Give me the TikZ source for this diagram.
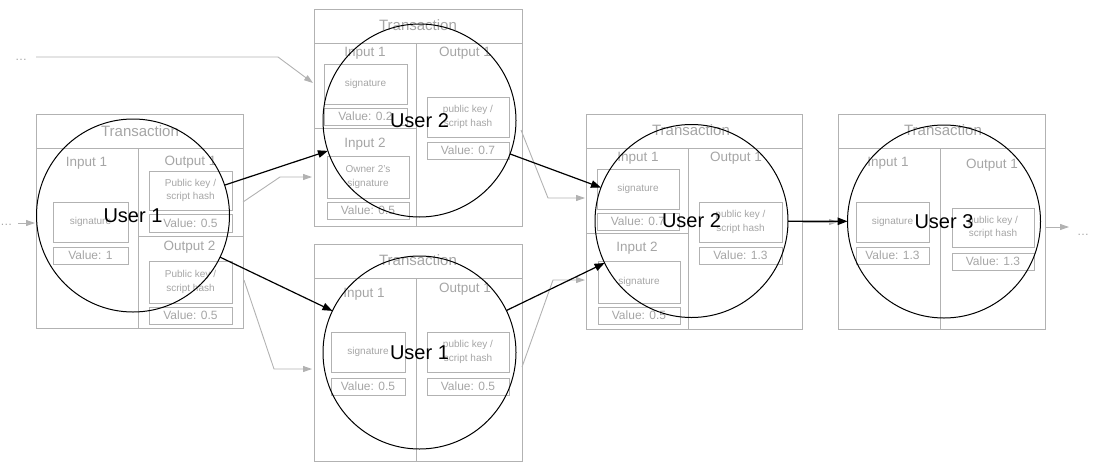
\documentclass[tikz,border=0pt]{standalone}
\usepackage{fontspec}
\setmainfont{Liberation Sans}
\usetikzlibrary{arrows.meta}
\definecolor{lgl}{RGB}{178,178,178}
\definecolor{lgt}{RGB}{165,165,165}
\newcommand{\rbox}[7][]{\node[bxs,minimum width={#5-#3},minimum height={#6-#4},#1] (#2) at ({(#3+#5)/2},{(#4+#6)/2}) {#7};}
\tikzset{
  bxs/.style={draw=lgl, line width=0.9pt, inner sep=0pt, outer sep=0pt, text=lgt, font=\fontsize{10}{13.3}\selectfont, align=center},
  val/.style={font=\fontsize{12}{14}\selectfont},
  ttl/.style={text=lgt, font=\fontsize{15}{18}\selectfont, inner sep=0pt},
  lbl/.style={text=lgt, font=\fontsize{13.5}{16}\selectfont, inner sep=0pt},
  dotsl/.style={text=lgt, font=\fontsize{12}{14}\selectfont, inner sep=0pt, anchor=base},
  gline/.style={draw=lgl, line width=0.9pt},
  garrow/.style={draw=lgl, line width=0.9pt, -{Triangle[length=9pt,width=6pt]}},
  barrow/.style={draw=black, line width=1.2pt, -{Triangle[length=10pt,width=7.5pt]}},
  ucirc/.style={circle, draw=black, line width=1pt, minimum size=193pt, inner sep=0pt, outer sep=0pt, font=\fontsize{20}{24}\selectfont}
}
\begin{document}
\begin{tikzpicture}[x=1pt,y=-1pt]
\useasboundingbox (0,0) rectangle (1108,472);

% ---------- Transaction 1 ----------
\rbox{t1}{36}{114}{243}{328}{}
\draw[gline] (t1.west |- 0,148) -- (t1.east |- 0,148);
\draw[gline] (138,148) -- (t1.south -| 138,0);
\draw[gline] (138,236) -- (t1.east |- 0,236);
\node[ttl] (t1t) at (140,131) {Transaction};
\node[lbl] (t1i1) at (86.5,163) {Input 1};
\node[lbl] (t1o1) at (190.5,162) {Output 1};
\node[lbl] (t1o2) at (189.5,247) {Output 2};
\rbox{t1s1}{53}{202}{128}{242}{signature}
\rbox[val]{t1v1}{53}{247}{128}{264}{Value: 1}
\rbox{t1p1}{149}{171}{232}{210}{Public key /\\script hash}
\rbox[val]{t1v2}{149}{214}{232}{232}{Value: 0.5}
\rbox{t1p2}{149}{261}{232}{303}{Public key /\\script hash}
\rbox[val]{t1v3}{149}{307}{232}{324}{Value: 0.5}

% ---------- Transaction 2 ----------
\rbox{t2}{314}{9}{522}{226}{}
\draw[gline] (t2.west |- 0,43) -- (t2.east |- 0,43);
\draw[gline] (416,43) -- (t2.south -| 416,0);
\draw[gline] (t2.west |- 0,128) -- (416,128);
\node[ttl] (t2t) at (418,25) {Transaction};
\node[lbl] (t2i1) at (365,53) {Input 1};
\node[lbl] (t2i2) at (365,144) {Input 2};
\node[lbl] (t2o1) at (465,53) {Output 1};
\rbox{t2s1}{324}{64}{407}{104}{signature}
\rbox[val]{t2v1}{324}{108}{407}{125}{Value: 0.2}
\rbox{t2s2}{327}{156}{409}{198}{Owner 2's\\signature}
\rbox[val]{t2v2}{327}{202}{409}{219}{Value: 0.5}
\rbox{t2p1}{427}{97}{509}{137}{public key /\\script hash}
\rbox[val]{t2v3}{427}{142}{509}{159}{Value: 0.7}

% ---------- Transaction 3 ----------
\rbox{t3}{314}{244}{522}{461}{}
\draw[gline] (t3.west |- 0,278) -- (t3.east |- 0,278);
\draw[gline] (416,278) -- (t3.south -| 416,0);
\node[ttl] (t3t) at (418,260) {Transaction};
\node[lbl] (t3i1) at (364,294) {Input 1};
\node[lbl] (t3o1) at (465,289) {Output 1};
\rbox{t3s1}{331}{332}{405}{372}{signature}
\rbox[val]{t3v1}{331}{378}{405}{395}{Value: 0.5}
\rbox{t3p1}{427}{332}{509}{372}{public key /\\script hash}
\rbox[val]{t3v2}{427}{378}{509}{395}{Value: 0.5}

% ---------- Transaction 4 ----------
\rbox{t4}{586}{114}{802}{329}{}
\draw[gline] (t4.west |- 0,148) -- (t4.east |- 0,148);
\draw[gline] (688,148) -- (t4.south -| 688,0);
\draw[gline] (t4.west |- 0,233) -- (688,233);
\node[ttl] (t4t) at (691,130) {Transaction};
\node[lbl] (t4i1) at (638,158) {Input 1};
\node[lbl] (t4i2) at (637,248) {Input 2};
\node[lbl] (t4o1) at (736,158) {Output 1};
\rbox{t4s1}{597}{169}{679}{209}{signature}
\rbox[val]{t4v1}{597}{213}{679}{230}{Value: 0.7}
\rbox{t4s2}{598}{261}{680}{303}{signature}
\rbox[val]{t4v2}{598}{307}{680}{324}{Value: 0.5}
\rbox{t4p1}{699}{202}{782}{242}{public key /\\script hash}
\rbox[val]{t4v3}{699}{247}{782}{264}{Value: 1.3}

% ---------- Transaction 5 ----------
\rbox{t5}{838}{114}{1045}{329}{}
\draw[gline] (t5.west |- 0,148) -- (t5.east |- 0,148);
\draw[gline] (940,148) -- (t5.south -| 940,0);
\node[ttl] (t5t) at (943,130) {Transaction};
\node[lbl] (t5i1) at (888,163) {Input 1};
\node[lbl] (t5o1) at (992,165) {Output 1};
\rbox{t5s1}{856}{202}{929}{242}{signature}
\rbox[val]{t5v1}{856}{247}{929}{264}{Value: 1.3}
\rbox{t5p1}{952}{208}{1034}{247}{public key /\\script hash}
\rbox[val]{t5v2}{952}{253}{1034}{270}{Value: 1.3}

% ---------- dots ----------
\node[dotsl] (d0) at (21,60) {…};
\node[dotsl] (d1) at (6.5,225) {…};
\node[dotsl] (d2) at (1083,235) {…};

% ---------- gray connectors ----------
\coordinate (a0s) at (36,57);   \coordinate (a0b) at (278,57);  \coordinate (a0e) at (313,83);
\coordinate (a1s) at (18,223);  \coordinate (a1e) at (35,223);
\coordinate (a2s) at (243,202); \coordinate (a2b) at (280,177); \coordinate (a2e) at (312,177);
\coordinate (a3s) at (244,280); \coordinate (a3b) at (274,369); \coordinate (a3e) at (312,369);
\coordinate (a4s) at (521,130); \coordinate (a4b) at (548,198); \coordinate (a4e) at (585,198);
\coordinate (a5s) at (522,367); \coordinate (a5b) at (553,280); \coordinate (a5e) at (585,280);
\coordinate (a6s) at (802,222); \coordinate (a6e) at (838,222);
\coordinate (a7s) at (1046,227); \coordinate (a7e) at (1069,227);
\draw[garrow] (a0s) -- (a0b) -- (a0e);
\draw[garrow] (a1s) -- (a1e);
\draw[garrow] (a2s) -- (a2b) -- (a2e);
\draw[garrow] (a3s) -- (a3b) -- (a3e);
\draw[garrow] (a4s) -- (a4b) -- (a4e);
\draw[garrow] (a5s) -- (a5b) -- (a5e);
\draw[garrow] (a6s) -- (a6e);
\draw[garrow] (a7s) -- (a7e);

% ---------- users ----------
\node[ucirc] (c1) at (133,215.5) {User 1};
\node[ucirc] (c2) at (419.5,120.5) {User 2};
\node[ucirc] (c3) at (419.5,352.5) {User 1};
\node[ucirc] (c4) at (691.5,221) {User 2};
\node[ucirc] (c5) at (944,221.5) {User 3};

\draw[barrow] (c1) -- (c2);
\draw[barrow] (c1) -- (c3);
\draw[barrow] (c2) -- (c4);
\draw[barrow] (c3) -- (c4);
\draw[barrow] (c4) -- (c5);
\end{tikzpicture}
\end{document}
